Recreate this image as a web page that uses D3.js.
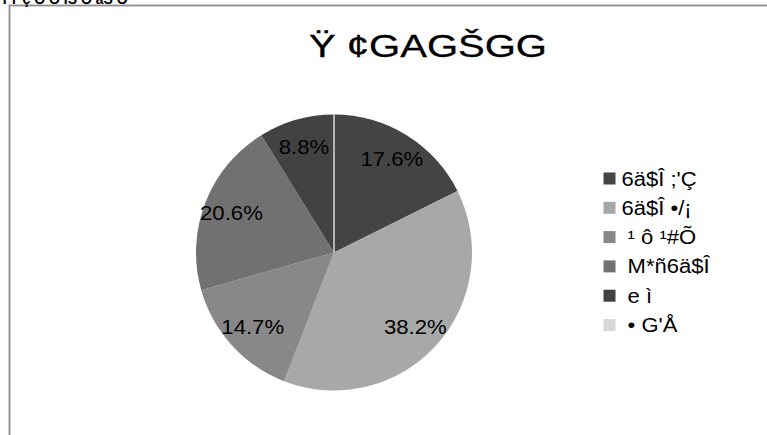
<!DOCTYPE html>
<html><head><meta charset="utf-8">
<script src="https://cdn.jsdelivr.net/npm/d3@7"></script>
<style>
html,body{margin:0;padding:0;background:#fff;overflow:hidden}
text{font-family:"Liberation Sans",Arial,sans-serif;white-space:pre}
</style></head>
<body>
<svg id="c" width="767" height="435"></svg>
<script>
const headerText = "ŸŸ ç Ó Ó ÍŠ Ó àŠ Ó";
const titleText = "Ÿ ¢GAGŠGG";
const categories = ["6ä$Î ;'Ç", "6ä$Î •/¡", " ¹ ô ¹#Õ", " M*ñ6ä$Î", " e ì", " • G'Å"];
const values = [6, 13, 5, 7, 3, 0];
const colors = ["#444444", "#a8a8a8", "#888888", "#717171", "#424242", "#d9d9d9"];

const svg = d3.select("#c");

// frame
svg.append("rect").attr("x", 9.5).attr("y", 5.5).attr("width", 800).attr("height", 500)
  .attr("fill", "none").attr("stroke", "#8e8e8e").attr("stroke-width", 1.8);

// clipped header text
svg.append("text").attr("x", 0).attr("y", 4).attr("font-size", 14).attr("font-weight", "bold")
  .attr("fill", "#000").text(headerText);

// title
svg.append("text").attr("x", 428).attr("y", 57).attr("text-anchor", "middle")
  .attr("font-size", 31.5).attr("fill", "#000").attr("stroke", "#000").attr("stroke-width", 0.3)
  .attr("textLength", 238).attr("lengthAdjust", "spacingAndGlyphs")
  .text(titleText);

const cx = 334, cy = 252.5, R = 138;
const total = d3.sum(values);
const pie = d3.pie().sort(null).value(d => d.v);
const data = pie(values.map((v, i) => ({v, c: colors[i], name: categories[i]})));
const arc = d3.arc().innerRadius(0).outerRadius(R);
const labelArc = d3.arc().innerRadius(110).outerRadius(110);

const g = svg.append("g").attr("transform", `translate(${cx},${cy})`);
g.selectAll("path.slice").data(data.filter(d => d.data.v > 0)).join("path")
  .attr("class", "slice").attr("d", arc).attr("fill", d => d.data.c);

// zero-valued slices appear as a thin line
g.selectAll("line.zero").data(data.filter(d => d.data.v === 0)).join("line")
  .attr("class", "zero")
  .attr("x1", 0).attr("y1", 0)
  .attr("x2", d => R * Math.sin(d.startAngle))
  .attr("y2", d => -R * Math.cos(d.startAngle))
  .attr("stroke", d => d.data.c).attr("stroke-width", 1.5);

const fmt = d3.format(".1%");
g.selectAll("text.lbl").data(data.filter(d => d.data.v > 0)).join("text")
  .attr("class", "lbl")
  .attr("transform", d => `translate(${labelArc.centroid(d)}) scale(1.08,1)`)
  .attr("text-anchor", "middle").attr("dy", "0.36em")
  .attr("font-size", 20.5).attr("fill", "#000")
  .text(d => fmt(d.data.v / total));

// legend
const lg = svg.append("g");
const rowY = d3.scaleLinear().domain([0, 1]).range([178.5, 207.8]);
const rows = lg.selectAll("g").data(categories).join("g")
  .attr("transform", (d, i) => `translate(603.5,${rowY(i)})`);
rows.append("rect").attr("x", 0).attr("y", -6).attr("width", 12).attr("height", 12)
  .attr("fill", (d, i) => colors[i]);
rows.append("text").attr("transform", "translate(18,0) scale(1.13,1)").attr("dy", "0.36em")
  .attr("font-size", 19.5).attr("fill", "#000").text(d => d);
</script>
</body></html>
